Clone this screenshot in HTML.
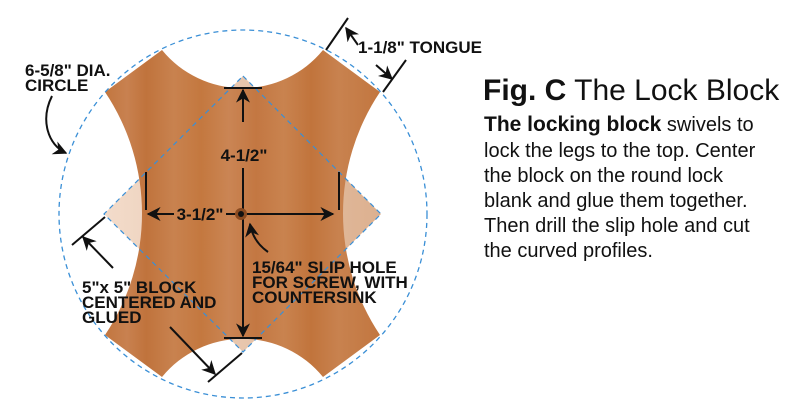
<!DOCTYPE html>
<html><head><meta charset="utf-8"><style>
html,body{margin:0;padding:0;background:#fff;width:800px;height:411px;overflow:hidden}
</style></head><body>
<svg width="800" height="411" viewBox="0 0 800 411" xmlns="http://www.w3.org/2000/svg">
<defs>
<linearGradient id="wood" x1="0" y1="0" x2="1" y2="0">
<stop offset="0" stop-color="#c2763f"/><stop offset="0.08" stop-color="#c88150"/>
<stop offset="0.15" stop-color="#c0733c"/><stop offset="0.25" stop-color="#c8824f"/>
<stop offset="0.35" stop-color="#c4783f"/><stop offset="0.45" stop-color="#ca8554"/>
<stop offset="0.55" stop-color="#c37742"/><stop offset="0.65" stop-color="#c9834f"/>
<stop offset="0.75" stop-color="#c1743c"/><stop offset="0.85" stop-color="#c8824f"/>
<stop offset="1" stop-color="#c2763f"/>
</linearGradient>
<linearGradient id="light" x1="0" y1="0" x2="1" y2="0">
<stop offset="0" stop-color="#f3dccb"/><stop offset="1" stop-color="#dcb08f"/>
</linearGradient>
<marker id="ah" viewBox="0 0 10 10" refX="9" refY="5" markerWidth="7" markerHeight="7" orient="auto">
<path d="M0,0 L10,5 L0,10 L3,5 z" fill="#111"/></marker>
</defs>
<polygon points="243,76 381,214 243,352 104,214" fill="url(#light)"/>
<path d="M162,50 A104,104 0 0 0 323,50 L380,92 A218,218 0 0 0 380,335 L323,377 A104,104 0 0 0 162,377 L105,335 A218,218 0 0 0 105,92 Z" fill="url(#wood)"/>
<circle cx="243" cy="214" r="184" fill="none" stroke="#3a8fd6" stroke-width="1.3" stroke-dasharray="5,4"/>
<polygon points="243,76 381,214 243,352 104,214" fill="none" stroke="#3a8fd6" stroke-width="1.2" stroke-dasharray="5,4"/>
<g stroke="#111" stroke-width="2" fill="none">
<line x1="224" y1="88" x2="262" y2="88"/>
<line x1="224" y1="338" x2="262" y2="338"/>
<line x1="243" y1="122" x2="243" y2="90" marker-end="url(#ah)"/>
<line x1="243" y1="168" x2="243" y2="336" marker-end="url(#ah)"/>
<line x1="146" y1="172" x2="146" y2="210"/>
<line x1="339" y1="172" x2="339" y2="210"/>
<line x1="174" y1="214" x2="148" y2="214" marker-end="url(#ah)"/>
<line x1="243" y1="214" x2="333" y2="214" marker-end="url(#ah)"/>
<line x1="226" y1="214" x2="240" y2="214"/>
<line x1="326" y1="50" x2="348" y2="18"/>
<line x1="383" y1="92" x2="406" y2="60"/>
<line x1="358" y1="45" x2="346" y2="28" marker-end="url(#ah)"/>
<line x1="376" y1="65" x2="392" y2="79" marker-end="url(#ah)"/>
<path d="M52,96 C40,120 48,145 66,153" marker-end="url(#ah)"/>
<line x1="72" y1="245" x2="105" y2="217"/>
<line x1="113" y1="268" x2="83" y2="237" marker-end="url(#ah)"/>
<line x1="208" y1="382" x2="242" y2="353"/>
<line x1="170" y1="327" x2="215" y2="374" marker-end="url(#ah)"/>
<path d="M268,252 C258,245 252,236 250,224" marker-end="url(#ah)"/>
</g>
<circle cx="241" cy="214" r="6" fill="#8a4a20"/>
<circle cx="241" cy="214" r="3" fill="#111"/>
<g font-family="Liberation Sans, sans-serif" font-weight="bold" font-size="17" fill="#111">
<text x="244" y="161" text-anchor="middle">4-1/2"</text>
<text x="200" y="220" text-anchor="middle">3-1/2"</text>
<text x="358" y="53">1-1/8" TONGUE</text>
<text x="25" y="76">6-5/8" DIA.</text>
<text x="25" y="91">CIRCLE</text>
<text x="82" y="293">5"x 5" BLOCK</text>
<text x="82" y="308">CENTERED AND</text>
<text x="82" y="323">GLUED</text>
<text x="252" y="273">15/64" SLIP HOLE</text>
<text x="252" y="288">FOR SCREW, WITH</text>
<text x="252" y="303">COUNTERSINK</text>
</g>
<g font-family="Liberation Sans, sans-serif" fill="#111">
<text x="483" y="100" font-size="30"><tspan font-weight="bold">Fig. C</tspan><tspan> The Lock Block</tspan></text>
<g font-size="20">
<text x="484" y="131"><tspan font-weight="bold" font-size="21">The locking block</tspan> swivels to</text>
<text x="484" y="157">lock the legs to the top. Center</text>
<text x="484" y="182">the block on the round lock</text>
<text x="484" y="207">blank and glue them together.</text>
<text x="484" y="232">Then drill the slip hole and cut</text>
<text x="484" y="257">the curved profiles.</text>
</g></g>
</svg>
</body></html>
